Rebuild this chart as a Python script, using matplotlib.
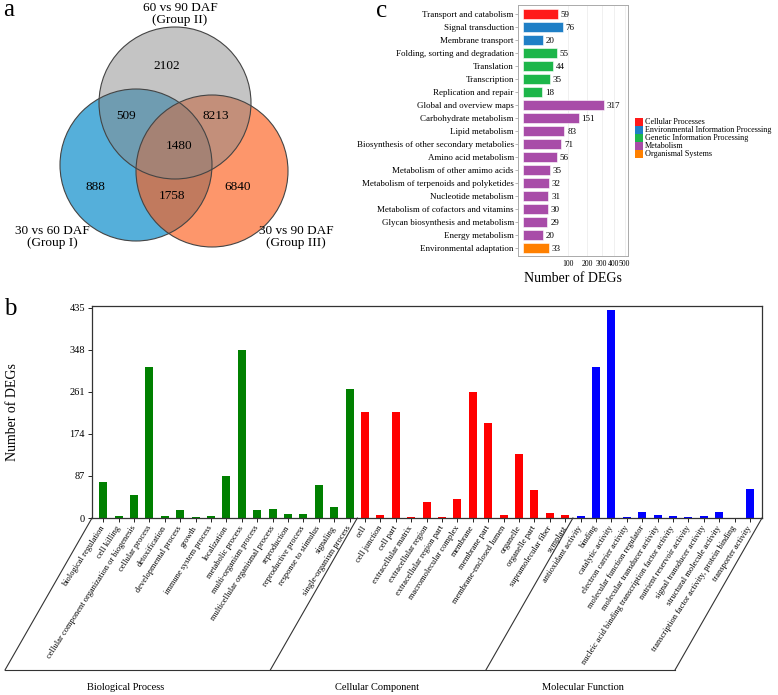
import matplotlib
matplotlib.use('Agg')
import matplotlib.pyplot as plt
from matplotlib.patches import Circle, Rectangle
from matplotlib.lines import Line2D
import numpy as np

plt.rcParams['font.family'] = ['Liberation Serif', 'DejaVu Serif']

W, H = 778, 695

# ---- panel a: Venn counts ----
venn_labels = ['30 vs 60 DAF\n(Group I)', '60 vs 90 DAF\n(Group II)', '30 vs 90 DAF\n(Group III)']
venn_regions = ['I', 'II', 'III', 'I&II', 'II&III', 'I&III', 'I&II&III']
venn_counts = [888, 2102, 6840, 509, 8213, 1758, 1480]

# ---- panel b: GO terms ----
bp_terms = ['biological regulation', 'cell killing', 'cellular component organization or biogenesis',
            'cellular process', 'detoxification', 'developmental process', 'growth',
            'immune system process', 'localization', 'metabolic process', 'multi-organism process',
            'multicellular organismal process', 'reproduction', 'reproductive process',
            'response to stimulus', 'signaling', 'single-organism process']
bp_counts = [75, 5, 48, 313, 4, 17, 2, 5, 86, 348, 16, 18, 9, 9, 68, 22, 268]

cc_terms = ['cell', 'cell junction', 'cell part', 'extracellular matrix', 'extracellular region',
            'extracellular region part', 'macromolecular complex', 'membrane', 'membrane part',
            'membrane-enclosed lumen', 'organelle', 'organelle part', 'supramolecular fiber', 'symplast']
cc_counts = [220, 6, 219, 2, 34, 3, 40, 260, 196, 7, 133, 59, 11, 6]

mf_terms = ['antioxidant activity', 'binding', 'catalytic activity', 'electron carrier activity',
            'molecular function regulator', 'molecular transducer activity',
            'nucleic acid binding transcription factor activity', 'nutrient reservoir activity',
            'signal transducer activity', 'structural molecule activity',
            'transcription factor activity, protein binding', 'transporter activity']
mf_counts = [4, 312, 430, 3, 12, 6, 4, 3, 5, 13, 1, 61]

go_yticks = [0, 87, 174, 261, 348, 435]

# ---- panel c: KEGG pathways ----
kegg_terms = ['Transport and catabolism', 'Signal transduction', 'Membrane transport',
              'Folding, sorting and degradation', 'Translation', 'Transcription',
              'Replication and repair', 'Global and overview maps', 'Carbohydrate metabolism',
              'Lipid metabolism', 'Biosynthesis of other secondary metabolies', 'Amino acid metabolism',
              'Metabolism of other amimo acids', 'Metabolism of terpenoids and polyketides',
              'Nucleotide metabolism', 'Metabolism of cofactors and vitamins',
              'Glycan biosynthesis and metabolism', 'Energy metabolism', 'Environmental adaptation']
kegg_counts = [59, 76, 20, 55, 44, 35, 18, 317, 151, 83, 71, 56, 35, 32, 31, 30, 29, 20, 33]
kegg_class = [0, 1, 1, 2, 2, 2, 2, 3, 3, 3, 3, 3, 3, 3, 3, 3, 3, 3, 4]
class_names = ['Cellular Processes', 'Environmental Information Processing',
               'Genetic Information Processing', 'Metabolism', 'Organismal Systems']
class_colors = ['#ff1a1a', '#1f7fc6', '#1db64a', '#a84ca8', '#ff8000']
kegg_xticks = [100, 200, 300, 400, 500]


def fx(px):
    return px / W


def fy(py):
    return 1 - py / H


fig = plt.figure(figsize=(W / 100, H / 100), dpi=100)

# ================= panel a =================
axa = fig.add_axes([0, fy(250), fx(370), 250 / H])
axa.set_xlim(0, 370)
axa.set_ylim(250, 0)
axa.axis('off')
circles = [((136, 165), '#42a7d6', 0.9),    # Group I
           ((212, 171), '#fc5e1c', 0.65),   # Group III
           ((175, 103), '#8a8a8a', 0.5)]    # Group II
for (cx, cy), col, al in circles:
    axa.add_patch(Circle((cx, cy), 76, facecolor=col, alpha=al, edgecolor='none'))
for (cx, cy), col, al in circles:
    axa.add_patch(Circle((cx, cy), 76, facecolor='none', edgecolor='#444444', lw=0.8))

count_pos = [(95, 187), (167, 66), (238, 187), (126, 116), (216, 116), (172, 196), (179, 146)]
for (x, y), v in zip(count_pos, venn_counts):
    axa.text(x, y, str(v), ha='center', va='center', fontsize=9.5)
axa.text(52, 237, venn_labels[0], ha='center', va='center', fontsize=9.5, linespacing=0.95)
axa.text(180, 14, venn_labels[1], ha='center', va='center', fontsize=9.5, linespacing=0.95)
axa.text(296, 237, venn_labels[2], ha='center', va='center', fontsize=9.5, linespacing=0.95)

# ================= panel b =================
terms = bp_terms + cc_terms + mf_terms
counts = bp_counts + cc_counts + mf_counts
colors = ['#008000'] * len(bp_terms) + ['#ff0000'] * len(cc_terms) + ['#0000ff'] * len(mf_terms)
x = np.arange(len(terms))

bl, br, bt, bb = 92, 762, 306, 518
axb = fig.add_axes([fx(bl), fy(bb), fx(br - bl), (bb - bt) / H])
axb.bar(x, counts, width=0.52, color=colors)
xmin, xmax = -0.73, 42.78
axb.set_xlim(xmin, xmax)
axb.set_ylim(0, 439)
axb.set_yticks(go_yticks)
axb.set_yticklabels([str(t) for t in go_yticks], fontsize=7.5)
axb.set_xticks(x)
axb.set_xticklabels(terms, rotation=57, ha='right', va='center', rotation_mode='anchor', fontsize=6)
axb.tick_params(axis='x', length=3, pad=3, width=0.6)
axb.tick_params(axis='y', length=3, pad=2, width=0.6)
for s in axb.spines.values():
    s.set_linewidth(0.9)
    s.set_color('#333333')
axb.set_ylabel('Number of DEGs', fontsize=10)
axb.yaxis.set_label_coords((19 - bl) / (br - bl), 0.5)


def data_to_px(xd):
    return bl + (xd - xmin) / (xmax - xmin) * (br - bl)


bounds = [xmin, len(bp_terms) - 0.5, len(bp_terms) + len(cc_terms) - 0.5, xmax]
for xd in bounds:
    px = data_to_px(xd)
    fig.add_artist(Line2D([fx(px), fx(px - 87)], [fy(bb), fy(670)], color='#333333', lw=0.8))
fig.add_artist(Line2D([fx(data_to_px(xmin) - 87), fx(data_to_px(xmax) - 87)], [fy(670), fy(670)],
                      color='#333333', lw=0.8))
for name, px in zip(['Biological Process', 'Cellular Component', 'Molecular Function'], [126, 377, 583]):
    fig.text(fx(px), fy(688), name, ha='center', va='center', fontsize=7.5)

# ================= panel c =================
cl, cr, ct, cb = 518, 628, 5, 256
axc = fig.add_axes([fx(cl), fy(cb), fx(cr - cl), (cb - ct) / H])
fwd = lambda v: np.sign(v) * np.sqrt(np.abs(v))
inv = lambda v: np.sign(v) * v ** 2
axc.set_xscale('function', functions=(fwd, inv))
y = np.arange(len(kegg_terms))
axc.barh(y, kegg_counts, height=0.76, color=[class_colors[c] for c in kegg_class],
         edgecolor='white', lw=0.4, zorder=2)
for yi, v in zip(y, kegg_counts):
    axc.annotate(str(v), (v, yi), xytext=(2, -0.5), textcoords='offset points',
                 ha='left', va='center', fontsize=6.5)
axc.set_xlim(-1.2, 533)
axc.set_ylim(len(kegg_terms) - 0.38, -0.69)
axc.set_yticks(y)
axc.set_yticklabels(kegg_terms, fontsize=6.5)
axc.set_xticks(kegg_xticks)
axc.set_xticklabels([str(t) for t in kegg_xticks], fontsize=5.6)
axc.tick_params(axis='x', length=0, pad=3)
axc.tick_params(axis='y', length=2, width=0.5, pad=1, color='#999999')
axc.grid(axis='x', color='#eeeeee', lw=0.6, zorder=0)
for s in axc.spines.values():
    s.set_linewidth(0.7)
    s.set_color('#aaaaaa')
fig.text(fx(573), fy(278), 'Number of DEGs', ha='center', va='center', fontsize=10)

for i, (name, col) in enumerate(zip(class_names, class_colors)):
    yc = 122 + 8 * i
    fig.add_artist(Rectangle((fx(635), fy(yc + 4)), 8 / W, 8 / H, facecolor=col, edgecolor='none',
                             transform=fig.transFigure))
    fig.text(fx(645), fy(yc), name, ha='left', va='center', fontsize=5.9)

# panel letters
fig.text(fx(3), fy(16), 'a', fontsize=18, ha='left', va='baseline')
fig.text(fx(4), fy(315), 'b', fontsize=18, ha='left', va='baseline')
fig.text(fx(376), fy(17), 'c', fontsize=18, ha='left', va='baseline')

fig.savefig('out.png', dpi=100)
